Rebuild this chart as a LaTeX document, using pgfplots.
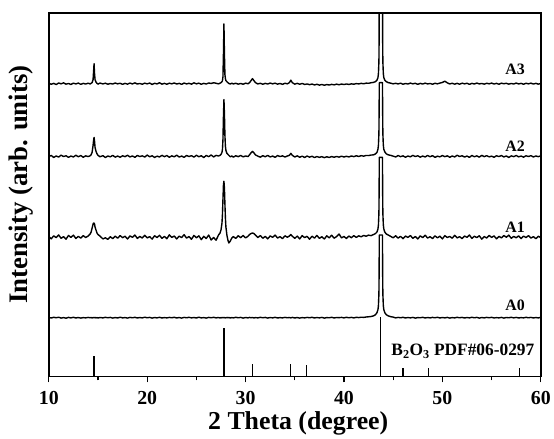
\documentclass[border=0pt]{standalone}
\usepackage{fontspec}
\setmainfont{Liberation Serif}
\usepackage{pgfplots}
\usepackage{pgfplotstable}
\pgfplotsset{compat=1.18}

\pgfplotstableread{
x a0 a1 a2 a3
10.00 0.2 0.5 -0.3 0.4
10.25 -0.3 -1.8 0.9 -0.6
10.50 0.4 1.2 -1.1 0.3
10.75 -0.1 -0.6 0.4 -0.9
11.00 0.5 2.1 -0.7 0.7
11.25 -0.4 -1.3 1.2 -0.2
11.50 0.1 0.4 -0.2 0.8
11.75 -0.5 -2.2 0.6 -0.5
12.00 0.3 1.6 -1.0 0.2
12.25 -0.2 -0.4 0.3 -0.8
12.50 0.4 1.9 -0.6 0.5
12.75 -0.3 -1.5 1.1 -0.3
13.00 0.2 0.7 -0.4 0.6
13.25 -0.4 -1.1 0.8 -0.7
13.50 0.1 1.4 -0.9 0.3
13.75 -0.2 -0.5 0.5 -0.4
14.00 0.3 1.0 -0.2 0.5
14.20 -0.1 3.0 0.6 -0.3
14.30 0.2 5.0 1.5 0.4
14.40 -0.3 9.0 4.0 1.0
14.50 0.1 13.0 11.0 4.0
14.55 0.0 14.0 16.0 12.0
14.60 0.2 14.0 19.0 20.0
14.65 -0.1 13.0 15.0 10.0
14.70 0.3 10.0 9.0 4.0
14.80 -0.2 7.0 5.0 1.5
14.90 0.1 4.0 2.5 0.3
15.00 -0.3 2.5 1.0 -0.5
15.20 0.2 1.0 -0.4 0.6
15.50 -0.2 -1.9 0.7 -0.3
15.75 0.4 -0.8 -1.2 0.5
16.00 -0.1 -2.4 0.4 -0.6
16.25 0.3 0.3 -0.5 0.2
16.50 -0.4 -1.6 1.0 -0.4
16.75 0.2 0.9 -0.8 0.7
17.00 -0.3 -1.2 0.3 -0.2
17.25 0.5 1.5 -0.9 0.4
17.50 -0.2 -0.7 0.6 -0.7
17.75 0.1 0.8 -0.3 0.3
18.00 -0.4 -2.0 1.1 -0.5
18.25 0.3 1.1 -0.6 0.6
18.50 -0.1 -0.3 0.4 -0.3
18.75 0.4 2.0 -1.0 0.8
19.00 -0.3 -1.4 0.9 -0.4
19.25 0.2 0.6 -0.2 0.2
19.50 -0.2 -1.0 0.5 -0.6
19.75 0.5 1.8 -0.7 0.5
20.00 -0.1 -0.9 1.3 -0.2
20.25 0.3 0.4 -0.4 0.6
20.50 -0.4 -2.1 0.6 -0.8
20.75 0.2 1.3 -1.1 0.4
21.00 -0.2 -0.5 0.2 -0.3
21.25 0.4 1.7 -0.6 0.9
21.50 -0.3 -1.3 1.0 -0.5
21.75 0.1 0.6 -0.3 0.3
22.00 -0.2 -1.7 0.8 -0.6
22.25 0.3 2.2 -0.9 0.5
22.50 -0.1 -0.4 0.5 -0.2
22.75 0.4 1.0 -0.5 0.7
23.00 -0.3 -1.9 1.2 -0.4
23.25 0.2 0.9 -0.7 0.3
23.50 -0.4 -0.6 0.3 -0.7
23.75 0.3 2.4 -1.0 0.6
24.00 -0.1 -1.1 0.9 -0.3
24.25 0.4 0.5 -0.2 0.4
24.50 -0.2 -2.3 0.7 -0.5
24.75 0.2 1.6 -0.8 0.8
25.00 -0.3 -0.8 1.1 -0.2
25.25 0.5 1.2 -0.4 0.5
25.50 -0.2 -2.6 0.6 -0.6
25.75 0.1 0.7 -1.2 0.3
26.00 -0.4 -1.5 0.9 -0.4
26.25 0.3 2.0 -0.3 0.7
26.50 -0.1 -3.0 1.4 0.2
26.75 0.4 -0.5 -0.6 0.9
27.00 -0.2 -3.2 1.0 0.4
27.25 0.2 2.0 0.3 -0.2
27.40 -0.3 4.0 1.0 0.5
27.50 0.1 7.0 2.0 1.0
27.60 -0.2 14.0 4.0 2.0
27.65 0.3 23.0 7.0 3.0
27.70 -0.1 38.0 17.0 7.0
27.75 0.2 52.0 40.0 30.0
27.80 0.0 56.0 57.0 60.0
27.85 0.2 49.0 43.0 30.0
27.90 -0.3 33.0 21.0 9.0
27.95 0.1 19.0 10.0 5.0
28.00 -0.2 10.0 6.0 3.0
28.10 0.3 2.0 3.0 2.0
28.20 -0.1 -3.0 2.0 1.0
28.30 0.2 -6.0 1.0 0.2
28.45 -0.3 -4.0 -0.5 -0.4
28.60 0.1 -1.0 0.4 0.5
28.75 -0.2 0.5 -0.8 -0.3
29.00 0.4 -1.4 0.6 0.4
29.25 -0.1 1.3 -0.3 -0.5
29.50 0.3 -0.7 0.9 0.2
29.75 -0.4 1.6 -0.5 -0.6
30.00 0.2 -0.9 0.4 0.5
30.25 -0.2 0.8 -0.2 -0.1
30.40 0.3 2.5 1.5 1.0
30.55 -0.1 3.5 3.5 3.0
30.70 0.2 4.0 5.0 5.0
30.85 -0.3 3.5 3.5 3.0
31.00 0.1 2.0 1.5 1.0
31.25 -0.2 -0.5 0.2 -0.3
31.50 0.4 1.5 -0.8 0.4
31.75 -0.1 -1.2 0.7 -0.6
32.00 0.3 0.6 -0.4 0.3
32.25 -0.4 -1.8 1.0 -0.4
32.50 0.2 1.1 -0.6 0.6
32.75 -0.2 -0.3 0.3 -0.2
33.00 0.4 1.9 -1.0 0.5
33.25 -0.3 -1.0 0.8 -0.5
33.50 0.1 0.4 -0.2 0.2
33.75 -0.2 -1.6 0.5 -0.7
34.00 0.3 1.2 -0.7 0.4
34.25 -0.1 -0.2 0.4 -0.2
34.45 0.2 1.0 1.0 1.0
34.60 -0.2 2.5 3.0 3.5
34.75 0.3 0.8 1.0 1.0
35.00 -0.3 -1.3 -0.6 -0.5
35.25 0.2 0.9 0.5 0.3
35.50 -0.4 -1.9 -0.9 -0.6
35.75 0.1 1.4 0.2 0.2
36.00 -0.2 -0.6 -1.1 -0.8
36.25 0.3 0.7 0.3 -0.3
36.50 -0.1 -2.2 -0.8 -1.0
36.75 0.4 0.8 0.1 -0.4
37.00 -0.3 -1.1 -1.2 -1.3
37.25 0.2 1.6 -0.2 -0.6
37.50 -0.2 -1.4 -1.0 -1.5
37.75 0.3 0.3 -0.3 -0.8
38.00 -0.4 -2.0 -1.3 -1.6
38.25 0.1 1.2 -0.4 -0.9
38.50 -0.1 -0.8 -1.1 -1.4
38.75 0.4 1.8 -0.2 -0.7
39.00 -0.3 -1.2 -0.9 -1.2
39.25 0.2 0.5 -0.1 -0.5
39.50 0.0 3.0 -0.8 -1.1
39.75 0.3 -0.9 0.2 -0.4
40.00 -0.2 0.6 -0.7 -0.9
40.25 0.4 -1.5 0.1 -0.3
40.50 -0.1 1.0 -0.6 -0.8
40.75 0.3 -0.7 0.4 -0.2
41.00 -0.2 1.4 -0.3 -0.6
41.25 0.4 -0.4 0.6 0.1
41.50 0.1 1.2 -0.1 -0.3
41.75 0.5 0.2 0.7 0.3
42.00 0.3 1.6 0.2 -0.1
42.25 0.7 0.8 0.9 0.5
42.50 0.9 1.9 0.8 0.4
42.75 1.2 1.4 1.3 0.9
43.00 1.8 2.5 1.5 1.3
43.20 3.0 3.5 2.5 2.0
43.35 5.0 5.0 4.0 3.5
43.45 8.0 8.0 7.0 6.0
43.50 12.0 12.0 11.0 10.0
43.55 24.0 24.0 23.0 22.0
43.57 45.0 45.0 45.0 45.0
43.59 83.0 80.0 74.0 120.0
43.91 83.0 80.0 74.0 120.0
43.93 45.0 45.0 45.0 45.0
43.95 24.0 24.0 23.0 22.0
44.00 12.0 12.0 11.0 10.0
44.05 8.0 8.0 7.0 6.0
44.15 5.0 5.0 4.5 3.5
44.30 3.0 3.0 2.5 2.0
44.50 1.8 2.0 1.5 1.0
44.75 1.0 0.6 1.0 0.5
45.00 0.6 -0.8 0.2 -0.2
45.25 -0.2 1.3 -0.6 0.4
45.50 0.3 -1.1 0.8 -0.3
45.75 -0.1 0.7 -0.3 0.5
46.00 0.4 -1.7 0.5 -0.6
46.25 -0.3 1.0 -0.9 0.2
46.50 0.2 -0.4 0.4 -0.4
46.75 -0.2 1.5 -0.5 0.6
47.00 0.3 -1.3 1.0 -0.2
47.25 -0.4 0.5 -0.2 0.4
47.50 0.1 -2.0 0.6 -0.7
47.75 -0.1 1.2 -0.8 0.3
48.00 0.4 -0.6 0.3 -0.4
48.25 -0.3 1.8 -0.6 0.5
48.50 0.2 -1.0 0.9 -0.3
48.75 -0.2 0.3 -0.4 0.2
49.00 0.3 -1.5 0.7 -0.6
49.25 -0.1 1.1 -1.0 0.4
49.50 0.4 -0.8 0.2 -0.2
49.75 -0.3 0.9 -0.5 0.6
50.00 0.2 -1.9 0.8 1.2
50.25 -0.2 1.4 -0.3 2.5
50.50 0.3 -0.5 0.5 0.8
50.75 -0.4 0.6 -0.9 -0.3
51.00 0.1 -1.2 0.4 0.4
51.25 -0.2 1.7 -0.6 -0.5
51.50 0.4 -0.9 1.1 0.3
51.75 -0.1 0.4 -0.2 -0.6
52.00 0.3 -1.6 0.6 0.5
52.25 -0.3 1.0 -0.7 -0.2
52.50 0.2 -0.3 0.3 0.4
52.75 -0.2 2.0 -1.0 -0.7
53.00 0.4 -1.4 0.9 0.3
53.25 -0.1 0.8 -0.4 -0.4
53.50 0.3 -0.6 0.5 0.6
53.75 -0.4 1.3 -0.8 -0.3
54.00 0.2 -2.1 1.0 0.2
54.25 -0.2 0.5 -0.3 -0.5
54.50 0.3 -1.0 0.7 0.4
54.75 -0.1 1.6 -0.5 -0.2
55.00 0.4 -0.4 0.2 0.6
55.25 -0.3 1.1 -0.9 -0.4
55.50 0.1 -1.8 0.6 0.3
55.75 -0.2 0.7 -0.2 -0.6
56.00 0.3 -0.9 0.8 0.5
56.25 -0.4 1.5 -0.6 -0.1
56.50 0.2 -0.2 0.4 0.4
56.75 -0.1 1.9 -1.1 -0.5
57.00 0.4 -1.3 0.5 0.2
57.25 -0.2 0.6 -0.3 -0.4
57.50 0.3 -0.7 0.9 0.6
57.75 -0.3 1.2 -0.5 -0.3
58.00 0.1 -1.6 0.3 0.3
58.25 -0.2 0.9 -0.8 -0.6
58.50 0.4 -0.5 0.6 0.4
58.75 -0.1 1.4 -0.2 -0.2
59.00 0.3 -1.1 0.7 0.5
59.25 -0.3 0.4 -0.6 -0.4
59.50 0.2 -1.7 0.4 0.3
59.75 -0.2 0.8 -0.3 -0.5
60.00 0.3 -0.6 0.5 0.2
}\xrd

\pgfplotstableread{
x h
14.6 21
27.8 49
30.7 12
34.6 13
36.2 11
43.7 60
46.0 8
48.6 8
57.8 8
}\pdfref

\begin{document}
\begin{tikzpicture}
\begin{axis}[
  scale only axis,
  width=494bp, height=365bp,
  xmin=10, xmax=60, ymin=0, ymax=365,
  xtick={10,20,30,40,50,60},
  minor x tick num=1,
  ytick=\empty,
  xtick pos=bottom,
  tick align=outside,
  major tick length=6bp,
  minor tick length=4bp,
  every tick/.style={black, line width=1.3pt},
  axis line style={line width=1.8pt},
  /pgf/number format/assume math mode=true,
  xticklabel style={font=\fontsize{20}{24}\selectfont\bfseries, anchor=center, yshift=-16bp},
  every axis x label/.style={at={(axis description cs:0.507,-0.129)}, anchor=center, font=\fontsize{26}{30}\selectfont\bfseries},
  every axis y label/.style={at={(axis description cs:-0.0567,0.528)}, rotate=90, anchor=center, font=\fontsize{27}{31}\selectfont\bfseries},
  xlabel={2 Theta (degree)},
  ylabel={Intensity (arb. units)},
  clip=true,
]
\addplot[ycomb, black, line width=1.2pt, no marks] table[x=x, y=h] {\pdfref};
\addplot[black, line width=1.4pt, line join=round, no marks] table[x=x, y expr=\thisrow{a0}+59] {\xrd};
\addplot[black, line width=1.4pt, line join=round, no marks] table[x=x, y expr=\thisrow{a1}+140] {\xrd};
\addplot[black, line width=1.4pt, line join=round, no marks] table[x=x, y expr=\thisrow{a2}+221] {\xrd};
\addplot[black, line width=1.4pt, line join=round, no marks] table[x=x, y expr=\thisrow{a3}+294] {\xrd};
\node[font=\fontsize{16}{19}\selectfont\bfseries] at (axis cs:57.4,308) {A3};
\node[font=\fontsize{16}{19}\selectfont\bfseries] at (axis cs:57.4,231) {A2};
\node[font=\fontsize{16}{19}\selectfont\bfseries] at (axis cs:57.4,150) {A1};
\node[font=\fontsize{16}{19}\selectfont\bfseries] at (axis cs:57.4,71) {A0};
\node[font=\fontsize{17.5}{20}\selectfont\bfseries, anchor=east] at (axis cs:59.7,25) {B\textsubscript{2}O\textsubscript{3} PDF\#06-0297};
\end{axis}
\path (-49bp,-61bp) rectangle (505bp,378bp);
\end{tikzpicture}
\end{document}
